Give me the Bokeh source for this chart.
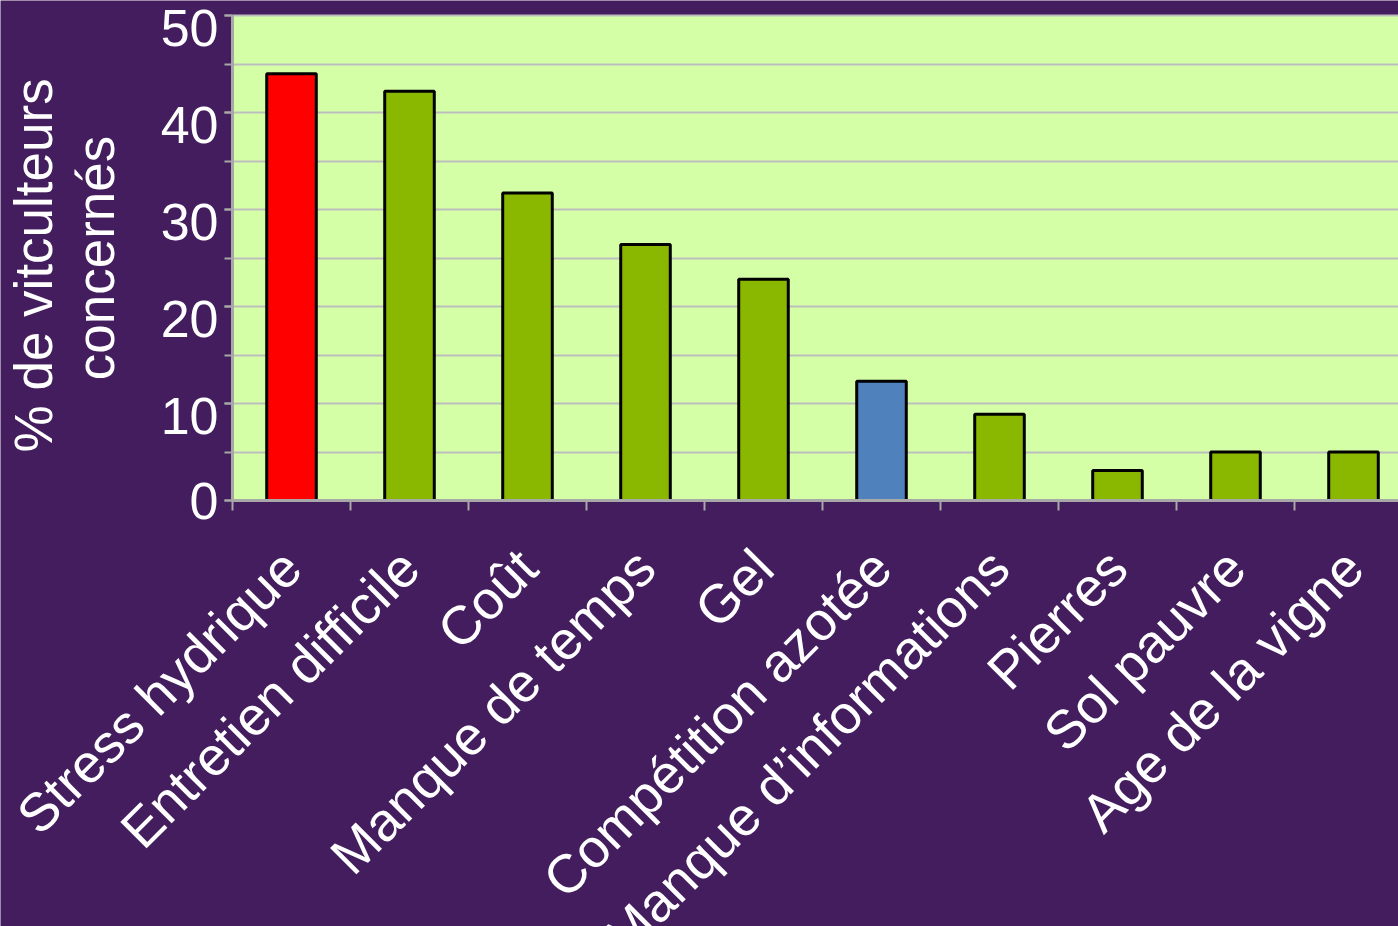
import math
from bokeh.plotting import figure
from bokeh.models import FixedTicker, Range1d, ColumnDataSource, BoxAnnotation
from bokeh.core.properties import value
from bokeh.embed import file_html
from bokeh.resources import INLINE

categories = ["Stress hydrique", "Entretien difficile", "Coût", "Manque de temps", "Gel",
              "Compétition azotée", "Manque d\u2019informations", "Pierres", "Sol pauvre", "Age de la vigne"]
values = [44.0, 42.2, 31.7, 26.4, 22.8, 12.3, 8.9, 3.1, 5.0, 5.0]
bar_colors = ["#FF0000", "#8AB800", "#8AB800", "#8AB800", "#8AB800",
              "#4F81BD", "#8AB800", "#8AB800", "#8AB800", "#8AB800"]
y_ticks = [0, 10, 20, 30, 40, 50]
y_tick_labels = ["0", "10", "20", "30", "40", "50"]
y_minor = [0, 5, 10, 15, 20, 25, 30, 35, 40, 45, 50]
y_title = "% de  vitculteurs\nconcernés"

BG = "#431D5D"
PLOT_BG = "#D4FFA6"
GRID = "#BDBDBD"
AXIS = "#A8A8A8"
FONT = "Liberation Sans"

# layout (pixels inside the figure canvas)
W, H = 1398, 926
frame_left_px = 232      # where the green plot area begins
frame_top_px = 15        # y = 50
frame_bottom_px = 500    # y = 0
cat_px = 118.0
y_px = (frame_bottom_px - frame_top_px) / 50.0

x_start = 0.5 - frame_left_px / cat_px
x_end = 0.5 + (W - frame_left_px) / cat_px
y_end = 50 + frame_top_px / y_px
y_start = -(H - frame_bottom_px) / y_px

xs = list(range(1, len(categories) + 1))
src = ColumnDataSource(dict(x=xs, top=values, color=bar_colors))

p = figure(width=W, height=H, output_backend="svg", toolbar_location=None,
           x_range=Range1d(x_start, x_end), y_range=Range1d(y_start, y_end),
           background_fill_color=BG, border_fill_color=BG, min_border=0)
p.outline_line_color = None

# green plot area
area = BoxAnnotation(left=0.5, bottom=0, top=50, fill_color=PLOT_BG, fill_alpha=1.0,
                     line_color=None, level="underlay")
p.center.insert(0, area)

p.vbar(x="x", top="top", bottom=0, width=0.42, fill_color="color",
       line_color="black", line_width=3, source=src)

# grid
p.xgrid.visible = False
p.ygrid.ticker = FixedTicker(ticks=y_minor)
p.ygrid.grid_line_color = GRID
p.ygrid.grid_line_width = 2
p.ygrid.bounds = (0, 50)
p.ygrid.cross_bounds = (0.5, x_end)

# y axis
ya = p.yaxis[0]
ya.fixed_location = 0.5
ya.bounds = (0, 50)
ya.ticker = FixedTicker(ticks=y_ticks, minor_ticks=y_minor)
ya.major_label_overrides = {t: "" for t in y_ticks}
ya.axis_line_color = AXIS
ya.axis_line_width = 3
ya.major_tick_line_color = AXIS
ya.minor_tick_line_color = AXIS
ya.major_tick_line_width = 2
ya.minor_tick_line_width = 2
ya.major_tick_out = 8
ya.major_tick_in = 0
ya.minor_tick_out = 8
ya.minor_tick_in = 0
ya.axis_label = y_title
ya.axis_label_text_font = FONT
ya.axis_label_text_font_size = "53px"
ya.axis_label_text_font_style = "normal"
ya.axis_label_text_line_height = 1.05
ya.axis_label_text_color = "white"
ya.axis_label_standoff = 100

# y tick labels (drawn just left of the axis, as in the reference)
ylab = ColumnDataSource(dict(x=[0.5] * len(y_ticks), y=y_ticks, text=y_tick_labels,
                             dy=[0 if t == 0 else 12 for t in y_ticks]))
p.text(x="x", y="y", text="text", source=ylab, x_offset=-14, y_offset="dy",
       text_align="right", text_baseline="middle", text_color="white",
       text_font=value(FONT), text_font_size="52px")

# x axis
xa = p.xaxis[0]
xa.fixed_location = 0
xa.bounds = (0.5, x_end)
xa.ticker = FixedTicker(ticks=xs, minor_ticks=[x + 0.5 for x in range(0, len(categories) + 1)])
xa.major_label_overrides = {x: c for x, c in zip(xs, categories)}
xa.major_label_orientation = math.pi / 4
xa.major_label_text_font = FONT
xa.major_label_text_font_size = "54px"
xa.major_label_text_color = "white"
xa.major_label_standoff = 48
xa.axis_line_color = AXIS
xa.axis_line_width = 3
xa.major_tick_line_color = None
xa.major_tick_out = 10
xa.major_tick_in = 0
xa.minor_tick_line_color = AXIS
xa.minor_tick_line_width = 2
xa.minor_tick_out = 10
xa.minor_tick_in = 0

open("out.html", "w").write(file_html(p, INLINE))
